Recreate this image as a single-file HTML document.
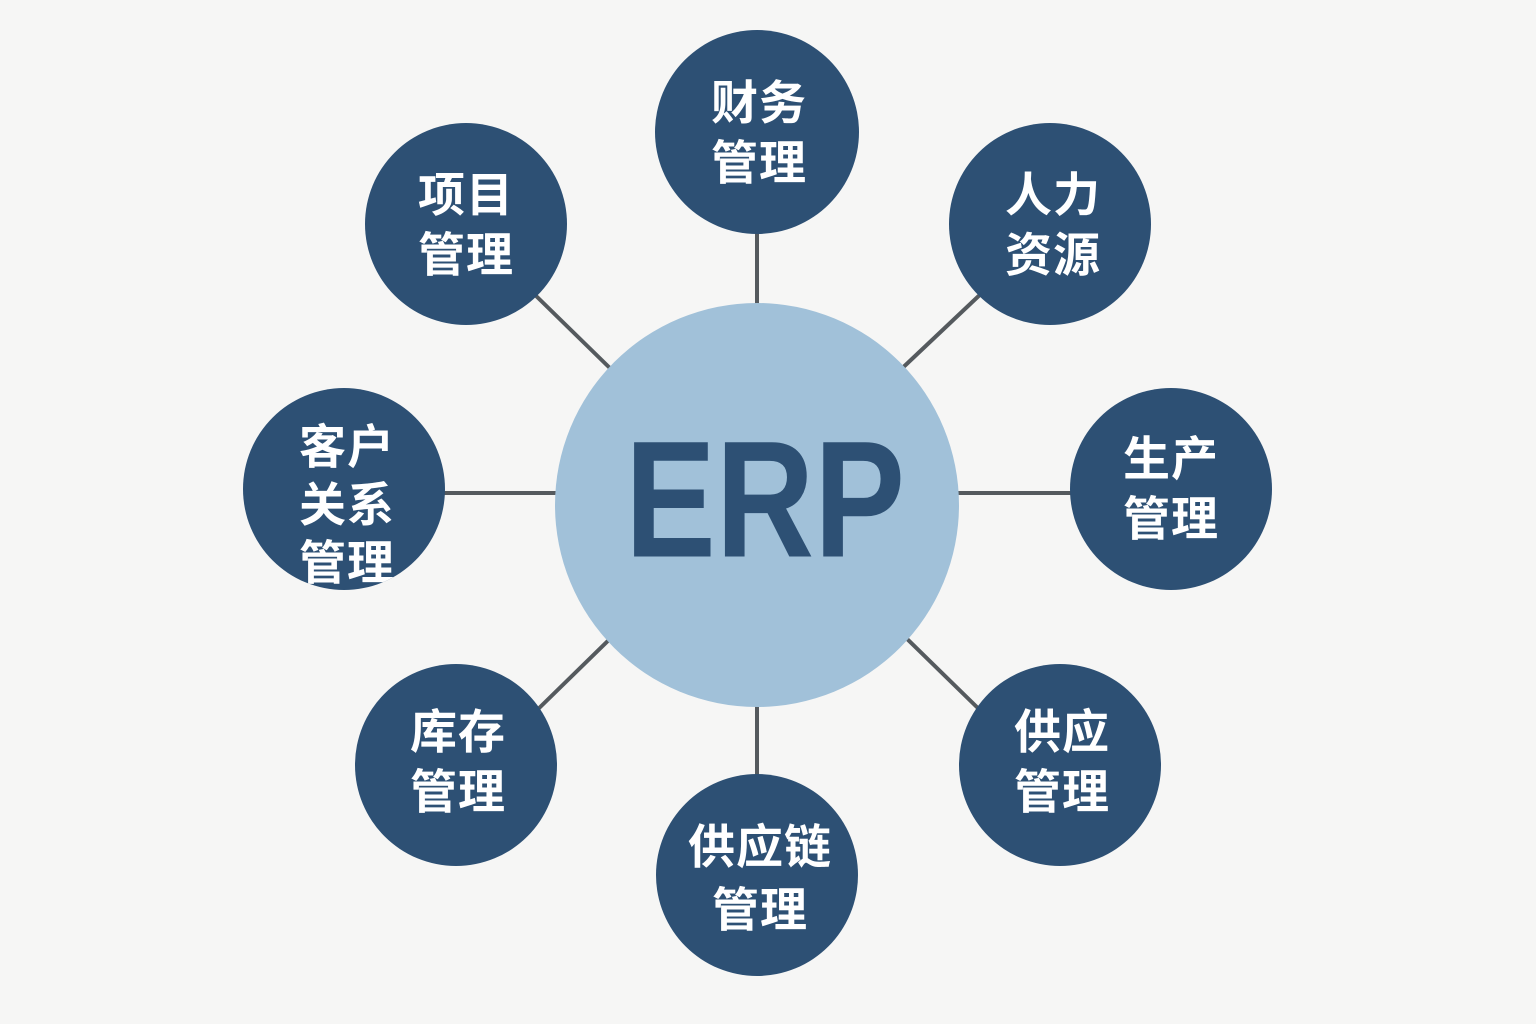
<!DOCTYPE html>
<html><head><meta charset="utf-8"><style>
html,body{margin:0;padding:0;background:#f6f6f5;}
svg{display:block}
.t{font-family:"Liberation Sans","Noto Sans CJK SC",sans-serif;font-weight:bold;font-size:47px;fill:#fff;text-anchor:middle;dominant-baseline:central;letter-spacing:1px}
</style></head><body>
<svg width="1536" height="1024" viewBox="0 0 1536 1024" xmlns="http://www.w3.org/2000/svg">
<rect width="1536" height="1024" fill="#f6f6f5"/>
<defs><clipPath id="c"><circle cx="344" cy="489" r="101"/></clipPath></defs>
<g stroke="#555a5e" stroke-width="4">
<line x1="757" y1="230" x2="757" y2="310"/>
<line x1="985" y1="290" x2="895" y2="375"/>
<line x1="950" y1="493" x2="1075" y2="493"/>
<line x1="900" y1="632" x2="985" y2="715"/>
<line x1="757" y1="700" x2="757" y2="780"/>
<line x1="617" y1="632" x2="532" y2="715"/>
<line x1="440" y1="493" x2="565" y2="493"/>
<line x1="530" y1="290" x2="617" y2="375"/>
</g>
<circle cx="757" cy="505" r="202" fill="#a1c1d9"/>
<text x="625" y="500" textLength="280" lengthAdjust="spacingAndGlyphs" font-family="Liberation Sans,sans-serif" font-weight="bold" font-size="166" fill="#2d5074" dominant-baseline="central">ERP</text>
<g fill="#2d5074">
<circle cx="757" cy="132" r="102"/>
<circle cx="1050" cy="224" r="101"/>
<circle cx="1171" cy="489" r="101"/>
<circle cx="1060" cy="765" r="101"/>
<circle cx="757" cy="875" r="101"/>
<circle cx="456" cy="765" r="101"/>
<circle cx="344" cy="489" r="101"/>
<circle cx="466" cy="224" r="101"/>
</g>
<text class="t" x="759" y="103">财务</text><text class="t" x="759" y="163">管理</text>
<text class="t" x="1053" y="195">人力</text><text class="t" x="1053" y="255">资源</text>
<text class="t" x="1171" y="459">生产</text><text class="t" x="1171" y="519">管理</text>
<text class="t" x="1062" y="732">供应</text><text class="t" x="1062" y="792">管理</text>
<text class="t" x="760" y="847">供应链</text><text class="t" x="760" y="910">管理</text>
<text class="t" x="458" y="732">库存</text><text class="t" x="458" y="792">管理</text>
<text class="t" x="466" y="195">项目</text><text class="t" x="466" y="255">管理</text>
<g clip-path="url(#c)">
<text class="t" x="347" y="447">客户</text><text class="t" x="347" y="505">关系</text><text class="t" x="347" y="563">管理</text>
</g>
</svg>
</body></html>
